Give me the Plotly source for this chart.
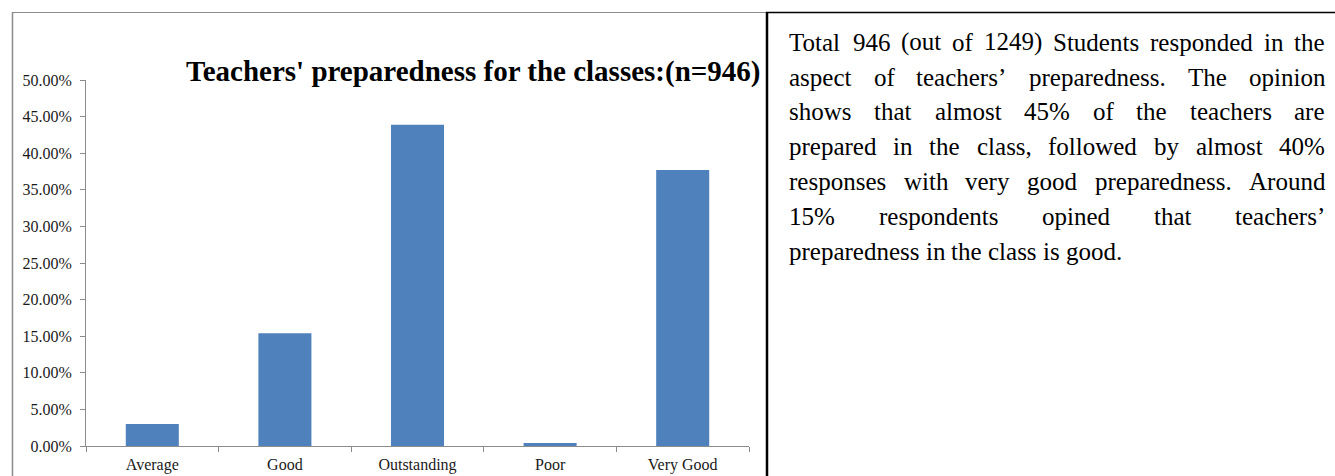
import plotly.graph_objects as go

# ---- data ----
categories = ["Average", "Good", "Outstanding", "Poor", "Very Good"]
shares = [0.030, 0.154, 0.439, 0.004, 0.377]
y_ticks = [0.0, 0.05, 0.10, 0.15, 0.20, 0.25, 0.30, 0.35, 0.40, 0.45, 0.50]
title_text = "Teachers' preparedness for the classes:(n=946)"
para_lines = [
    "Total 946 (out of 1249) Students responded in the",
    "aspect of teachers’ preparedness. The opinion",
    "shows that almost 45% of the teachers are",
    "prepared in the class, followed by almost 40%",
    "responses with very good preparedness. Around",
    "15% respondents opined that teachers’",
    "preparedness in the class is good.",
]

# ---- layout geometry (pixels) ----
W, H = 1335, 476
ML, MR, MT, MB = 86, 1335 - 749, 80, 476 - 446
PW, PH = W - ML - MR, H - MT - MB


def px(x):
    return (x - ML) / PW


def py(y):
    return (H - MB - y) / PH


SERIF = "Liberation Serif, serif"

# Times-Roman advance widths (per 1000 em)
TW = {' ': 250, "'": 180, '’': 333, '(': 333, ')': 333, ',': 250, '.': 250, '%': 833,
      ':': 278, '=': 564}
for d in "0123456789":
    TW[d] = 500
TW.update(dict(a=444, b=500, c=444, d=500, e=444, f=333, g=500, h=500, i=278, j=278,
               k=500, l=278, m=778, n=500, o=500, p=500, q=500, r=333, s=389, t=278,
               u=500, v=500, w=722, x=500, y=500, z=444))
TW.update({'A': 722, 'T': 611, 'S': 556, 'O': 722, 'P': 556})


def wwidth(word, fs):
    return sum(TW.get(ch, 500) for ch in word) / 1000 * fs


fig = go.Figure()
fig.add_trace(go.Bar(
    x=categories, y=shares,
    marker=dict(color="#4F81BD", line=dict(width=0)),
    hoverinfo="skip",
))

fig.update_layout(
    width=W, height=H,
    margin=dict(l=ML, r=MR, t=MT, b=MB, autoexpand=False),
    paper_bgcolor="white", plot_bgcolor="white",
    bargap=0.6,
    showlegend=False,
    font=dict(family=SERIF, color="#1a1a1a", size=16),
)
fig.update_xaxes(
    type="category", showgrid=False, showline=True, linecolor="#8c8c8c", linewidth=1,
    ticks="outside", tickson="boundaries", ticklen=5, tickcolor="#8c8c8c",
    tickfont=dict(family=SERIF, size=16, color="#1a1a1a"), zeroline=False,
    ticklabelstandoff=4,
)
fig.update_yaxes(
    range=[0, 0.5], tickvals=y_ticks, tickformat=".2%", showgrid=False,
    showline=True, linecolor="#8c8c8c", linewidth=1, ticks="outside", ticklen=5,
    tickcolor="#8c8c8c", tickfont=dict(family=SERIF, size=16, color="#1a1a1a"),
    zeroline=False, ticklabelstandoff=5,
)

# title
fig.add_annotation(
    x=px(473), y=py(72), xref="paper", yref="paper", xanchor="center", yanchor="middle",
    text="<b>" + title_text + "</b>", showarrow=False,
    font=dict(family=SERIF, size=29, color="black"),
)

# borders
shapes = [
    dict(type="line", x0=px(12), x1=px(766), y0=py(12.5), y1=py(12.5), line=dict(color="#8c8c8c", width=1)),
    dict(type="line", x0=px(12.5), x1=px(12.5), y0=py(12), y1=py(480), line=dict(color="#8c8c8c", width=1.5)),
    dict(type="line", x0=px(766), x1=px(1335), y0=py(12.5), y1=py(12.5), line=dict(color="black", width=1.5)),
    dict(type="line", x0=px(767), x1=px(767), y0=py(12), y1=py(480), line=dict(color="black", width=2.5)),
]
for s in shapes:
    s.update(xref="paper", yref="paper", layer="above")
fig.update_layout(shapes=shapes)

# paragraph, justified
FS = 25
X0, X1 = 788, 1324
line_y = [42, 77, 111, 146, 181, 216, 251]
for i, (ln, yy) in enumerate(zip(para_lines, line_y)):
    words = ln.split()
    widths = [wwidth(w, FS) for w in words]
    justify = i < len(para_lines) - 1 and len(words) > 1
    if justify:
        gap = (X1 - X0 - sum(widths)) / (len(words) - 1)
    else:
        gap = TW[' '] / 1000 * FS
    x = X0
    for w, ww in zip(words, widths):
        fig.add_annotation(
            x=px(x), y=py(yy), xref="paper", yref="paper", xanchor="left", yanchor="middle",
            text=w, showarrow=False, borderpad=0,
            font=dict(family=SERIF, size=FS, color="black"),
        )
        x += ww + gap

fig.write_html(
    "out.html",
    config={"displayModeBar": False, "staticPlot": True},
    post_script="document.body.style.margin='0';document.body.style.overflow='hidden';",
)
